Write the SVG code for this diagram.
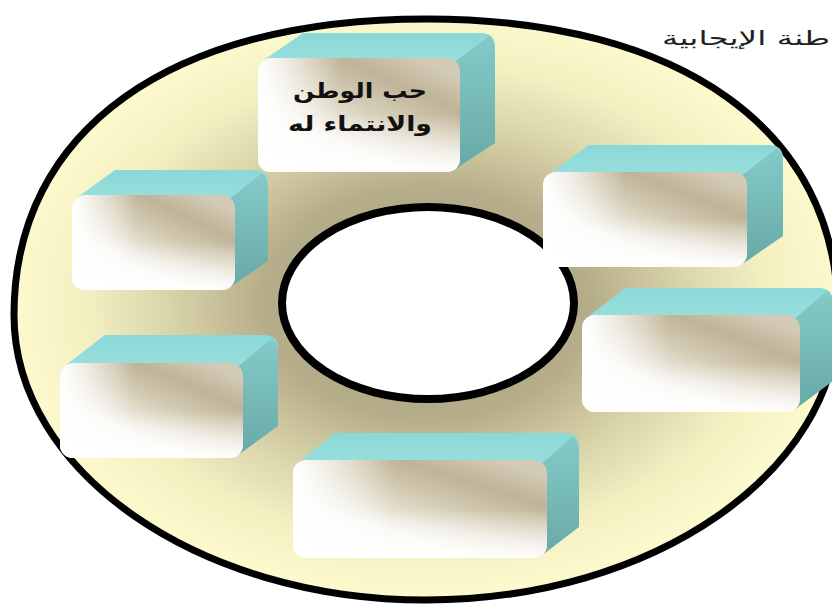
<svg xmlns="http://www.w3.org/2000/svg" width="832" height="611" viewBox="0 0 832 611">
<defs>
<radialGradient id="bg" cx="0.5" cy="0.49" r="0.5">
<stop offset="0" stop-color="#a59c78"/>
<stop offset="0.4" stop-color="#b6ae8a"/>
<stop offset="0.62" stop-color="#d9d3a9"/>
<stop offset="0.82" stop-color="#f3efc1"/>
<stop offset="1" stop-color="#fcf9cc"/>
</radialGradient>
<linearGradient id="ff" x1="0.1" y1="0.95" x2="0.85" y2="0.05">
<stop offset="0" stop-color="#ffffff"/>
<stop offset="0.3" stop-color="#f7f6f1"/>
<stop offset="0.6" stop-color="#d2cab2"/>
<stop offset="0.8" stop-color="#bfb497"/>
<stop offset="1" stop-color="#d3cab5"/>
</linearGradient>
<linearGradient id="fl" x1="0" y1="0" x2="1" y2="0">
<stop offset="0" stop-color="#ffffff" stop-opacity="1"/>
<stop offset="0.4" stop-color="#ffffff" stop-opacity="0"/>
</linearGradient>
<linearGradient id="fb" x1="0" y1="0" x2="0" y2="1">
<stop offset="0.5" stop-color="#ffffff" stop-opacity="0"/>
<stop offset="1" stop-color="#ffffff" stop-opacity="0.95"/>
</linearGradient>
<linearGradient id="tf" x1="0" y1="0" x2="0" y2="1">
<stop offset="0" stop-color="#8ad8d8"/>
<stop offset="1" stop-color="#9de1de"/>
</linearGradient>
<linearGradient id="rf" x1="0" y1="0" x2="0" y2="1">
<stop offset="0" stop-color="#84cac9"/>
<stop offset="1" stop-color="#68a9a7"/>
</linearGradient>
</defs>
<style>
.top{fill:url(#tf)}
.side{fill:url(#rf)}
.front{fill:url(#ff)}
.fl{fill:url(#fl)}
.fb{fill:url(#fb)}
.lbl{font-family:"DejaVu Sans",sans-serif;font-weight:bold;font-size:21px;fill:#111;text-anchor:middle}
.title{font-family:"DejaVu Sans",sans-serif;font-size:20px;fill:#222}
</style>
<rect width="832" height="611" fill="#ffffff"/>
<g id="ring">
<path d="M14,315 C14,130 170,19 426,19 C681,19 838,130 838,315 C838,472 653,600 426,600 C199,600 14,472 14,315 Z" fill="url(#bg)" stroke="#000" stroke-width="7"/>
<ellipse cx="428" cy="303" rx="146" ry="96" fill="#ffffff" stroke="#000" stroke-width="8"/>
</g>
<g id="title">
<text class="title" x="662" y="45" textLength="168" lengthAdjust="spacingAndGlyphs">طنة الإيجابية</text>
</g>
<g id="box1">
<path class="top" d="M264,60 L303,33 L481,33 Q495,33 495,47 L460,72 Z"/>
<path class="side" d="M452,64 L489,36 Q495,40 495,51 L495,143 L454,170 Z"/>
<rect class="front" x="258" y="58" width="202" height="114" rx="13"/>
<rect class="fl" x="258" y="58" width="202" height="114" rx="13"/>
<rect class="fb" x="258" y="58" width="202" height="114" rx="13"/>
<text class="lbl" x="360" y="98" textLength="134" lengthAdjust="spacingAndGlyphs">حب الوطن</text>
<text class="lbl" x="360" y="131" textLength="144" lengthAdjust="spacingAndGlyphs">والانتماء له</text>
</g>
<g id="box2">
<path class="top" d="M78,197 L115,170 L254,170 Q268,170 268,184 L235,209 Z"/>
<path class="side" d="M227,201 L262,173 Q268,177 268,188 L268,261 L229,288 Z"/>
<rect class="front" x="72" y="195" width="163" height="95" rx="13"/>
<rect class="fl" x="72" y="195" width="163" height="95" rx="13"/>
<rect class="fb" x="72" y="195" width="163" height="95" rx="13"/>
</g>
<g id="box3">
<path class="top" d="M549,174 L589,145 L769,145 Q783,145 783,159 L747,186 Z"/>
<path class="side" d="M739,178 L777,148 Q783,152 783,163 L783,236 L741,265 Z"/>
<rect class="front" x="543" y="172" width="204" height="95" rx="13"/>
<rect class="fl" x="543" y="172" width="204" height="95" rx="13"/>
<rect class="fb" x="543" y="172" width="204" height="95" rx="13"/>
</g>
<g id="box4">
<path class="top" d="M588,317 L625,288 L819,288 Q833,288 833,302 L800,329 Z"/>
<path class="side" d="M792,321 L827,291 Q833,295 833,306 L833,381 L794,410 Z"/>
<rect class="front" x="582" y="315" width="218" height="97" rx="13"/>
<rect class="fl" x="582" y="315" width="218" height="97" rx="13"/>
<rect class="fb" x="582" y="315" width="218" height="97" rx="13"/>
</g>
<g id="box5">
<path class="top" d="M66,365 L105,335 L264,335 Q278,335 278,349 L243,377 Z"/>
<path class="side" d="M235,369 L272,338 Q278,342 278,353 L278,426 L237,456 Z"/>
<rect class="front" x="60" y="363" width="183" height="95" rx="13"/>
<rect class="fl" x="60" y="363" width="183" height="95" rx="13"/>
<rect class="fb" x="60" y="363" width="183" height="95" rx="13"/>
</g>
<g id="box6">
<path class="top" d="M299,462 L335,433 L565,433 Q579,433 579,447 L547,474 Z"/>
<path class="side" d="M539,466 L573,436 Q579,440 579,451 L579,527 L541,556 Z"/>
<rect class="front" x="293" y="460" width="254" height="98" rx="13"/>
<rect class="fl" x="293" y="460" width="254" height="98" rx="13"/>
<rect class="fb" x="293" y="460" width="254" height="98" rx="13"/>
</g>
<g id="connectors"></g>
</svg>
